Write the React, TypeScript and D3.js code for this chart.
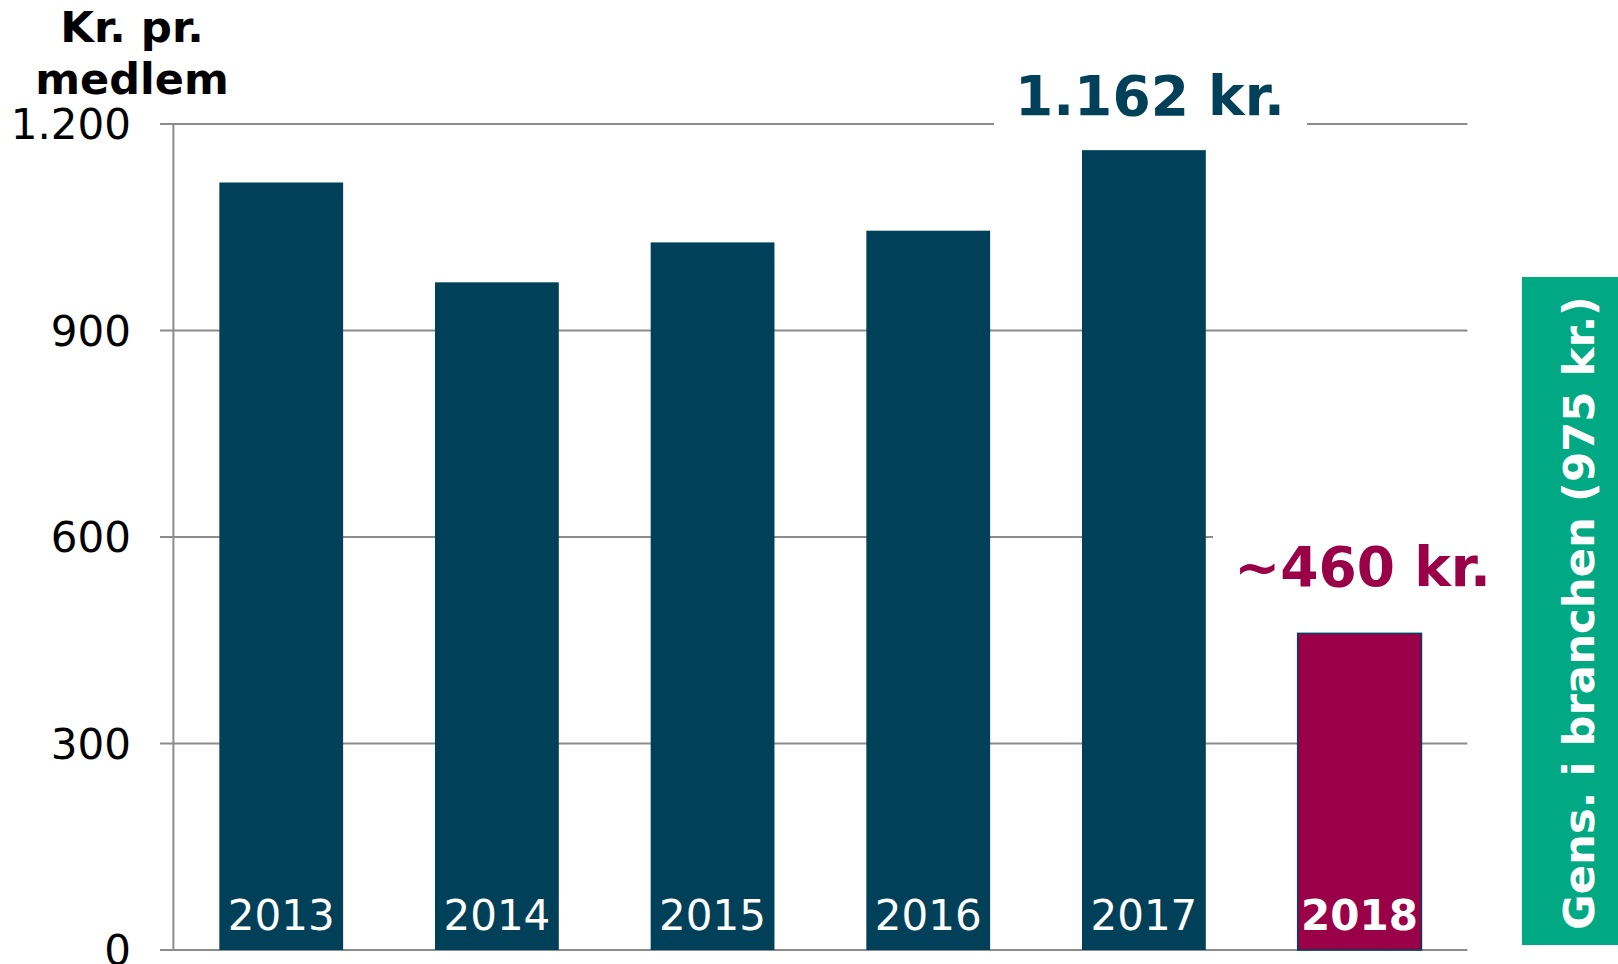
import React from 'react';
import * as d3 from 'd3';

// Kr. pr. medlem, 2013-2018
const years = ['2013', '2014', '2015', '2016', '2017', '2018'];
const values = [1115, 970, 1028, 1045, 1162, 460];
const yTicks = [0, 300, 600, 900, 1200];
const highlightYear = '2018';
const label2017 = '1.162 kr.';
const label2018 = '~460 kr.';
const sideNote = 'Gens. i branchen (975 kr.)';

const W = 1618;
const H = 964;
const FONT = '"DejaVu Sans", Verdana, sans-serif';
const TEAL = '#004059';
const MAGENTA = '#990047';
const GREEN = '#00A984';
const GRID = '#8c8c8c';

const locale = d3.formatLocale({ decimal: ',', thousands: '.', grouping: [3], currency: ['', ' kr.'] });
const fmt = locale.format(',d');

const App = () => {
  const x = d3.scaleBand<string>()
    .domain(years)
    .range([173.4, 1467.4])
    .paddingInner(0.426)
    .paddingOuter(0.213);

  const y = d3.scaleLinear().domain([0, 1200]).range([950, 124]);
  const axisX = 173.4;

  const cx17 = x('2017')! + x.bandwidth() / 2;
  const cx18 = x(highlightYear)! + x.bandwidth() / 2;

  return (
    <svg width={W} height={H} style={{ position: 'absolute', left: 0, top: 0, background: '#fff' }}>
      {/* y axis title */}
      <text x={132} y={42} textAnchor="middle" fontFamily={FONT} fontWeight="bold" fontSize={43.5} fill="#000">Kr. pr.</text>
      <text x={132} y={94} textAnchor="middle" fontFamily={FONT} fontWeight="bold" fontSize={43} fill="#000">medlem</text>

      {/* gridlines and tick labels */}
      {yTicks.map(t => (
        <g key={t}>
          <line x1={160} x2={1467.4} y1={y(t)} y2={y(t)} stroke={GRID} strokeWidth={2} />
          <text x={131} y={y(t)} dy="0.36em" textAnchor="end" fontFamily={FONT} fontSize={42} fill="#000">{fmt(t)}</text>
        </g>
      ))}
      <line x1={axisX} x2={axisX} y1={y(1200)} y2={y(0)} stroke={GRID} strokeWidth={2} />

      {/* bars */}
      {years.map((yr, i) => (
        <rect key={yr}
          x={x(yr)} y={y(values[i])}
          width={x.bandwidth()} height={y(0) - y(values[i])}
          fill={yr === highlightYear ? MAGENTA : TEAL}
          stroke={yr === highlightYear ? TEAL : 'none'} strokeWidth={1.5} />
      ))}

      {/* year labels inside bars */}
      {years.map(yr => (
        <text key={yr} x={x(yr)! + x.bandwidth() / 2} y={930} textAnchor="middle"
          fontFamily={FONT} fontSize={42} fill="#fff"
          fontWeight={yr === highlightYear ? 'bold' : 'normal'}>{yr}</text>
      ))}

      {/* value callouts */}
      <rect x={994} y={60} width={313} height={75} fill="#fff" />
      <text x={cx17 + 6} y={115} textAnchor="middle" fontFamily={FONT} fontWeight="bold" fontSize={55} fill={TEAL}>
        {label2017}
      </text>
      <rect x={1213} y={525} width={260} height={70} fill="#fff" />
      <text x={cx18 + 3} y={586} textAnchor="middle" fontFamily={FONT} fontWeight="bold" fontSize={55} fill={MAGENTA}>
        {label2018}
      </text>

      {/* side note */}
      <rect x={1522} y={277} width={96} height={668} fill={GREEN} />
      <text transform={`translate(1594,613) rotate(-90)`} textAnchor="middle"
        fontFamily={FONT} fontWeight="bold" fontSize={43.4} fill="#fff">{sideNote}</text>
    </svg>
  );
};

export default App;
